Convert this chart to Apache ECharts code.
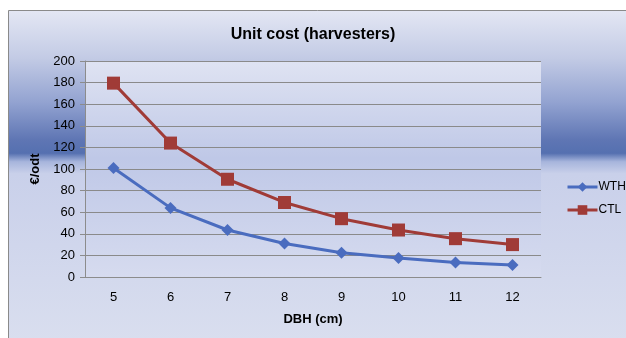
<!DOCTYPE html>
<html>
<head>
<meta charset="utf-8">
<script src="https://cdn.jsdelivr.net/npm/echarts@6/dist/echarts.min.js"></script>
<style>html,body{margin:0;padding:0;background:#fff}#c{width:626px;height:338px}</style>
</head>
<body>
<div id="c"></div>
<script>
var categories = ['5','6','7','8','9','10','11','12'];
var wth = [101, 64, 43.5, 31, 22.5, 17.5, 13.5, 11];
var ctl = [179.5, 124, 90.5, 69, 54, 43.5, 35.5, 30];
var yTicks = {min: 0, max: 200, interval: 20};

var chart = echarts.init(document.getElementById('c'));
var font = 'Liberation Sans';
chart.setOption({
  animation: false,
  graphic: [
    {type: 'rect', shape: {x: 8.5, y: 10.5, width: 640, height: 340}, z: -10,
     style: {stroke: '#8a8a8a', lineWidth: 1,
       fill: {type: 'linear', x: 0, y: 0, x2: 0, y2: 1, colorStops: [
         {offset: 0, color: '#e4e7f4'},
         {offset: 0.14, color: '#c3cbe5'},
         {offset: 0.27, color: '#93a3d1'},
         {offset: 0.38, color: '#5f76b4'},
         {offset: 0.42, color: '#5570b0'},
         {offset: 0.445, color: '#a7b5dc'},
         {offset: 0.48, color: '#c9d0ea'},
         {offset: 1, color: '#dadfef'}
       ]}}},
    {type: 'rect', shape: {x: 85, y: 61, width: 456, height: 216}, z: -5,
     style: {fill: {type: 'linear', x: 0, y: 0, x2: 0, y2: 1, colorStops: [
         {offset: 0, color: '#dfe3f2'},
         {offset: 0.45, color: '#bfc8e7'},
         {offset: 1, color: '#d6dbef'}
       ]}}}
  ],
  title: {
    text: 'Unit cost (harvesters)', left: 'center', top: 22,
    textStyle: {fontFamily: font, fontSize: 16, fontWeight: 'bold', color: '#000'}
  },
  legend: {
    orient: 'vertical', left: 561, top: 176, itemGap: 11,
    itemWidth: 30, itemHeight: 12,
    lineStyle: {width: 3},
    textStyle: {fontFamily: font, fontSize: 12, color: '#000', padding: [0, 0, 0, -4]},
    data: ['WTH', 'CTL']
  },
  grid: {left: 85, right: 85, top: 61, bottom: 61, containLabel: false},
  xAxis: {
    type: 'category', data: categories, boundaryGap: true,
    name: 'DBH (cm)', nameLocation: 'middle', nameGap: 36,
    nameTextStyle: {fontFamily: font, fontSize: 13, fontWeight: 'bold', color: '#000'},
    axisLine: {lineStyle: {color: '#8c8c8c', width: 1}},
    axisTick: {show: false},
    axisLabel: {fontFamily: font, fontSize: 13, color: '#000', margin: 14}
  },
  yAxis: {
    type: 'value', min: yTicks.min, max: yTicks.max, interval: yTicks.interval,
    name: '€/odt', nameLocation: 'middle', nameGap: 37, nameRotate: 90,
    nameTextStyle: {fontFamily: font, fontSize: 13, fontWeight: 'bold', color: '#000'},
    axisLine: {show: true, lineStyle: {color: '#8c8c8c'}},
    axisTick: {show: true, length: 5, lineStyle: {color: '#8c8c8c'}},
    axisLabel: {fontFamily: font, fontSize: 13, color: '#000', margin: 10},
    splitLine: {lineStyle: {color: '#8a8a8a', width: 1}}
  },
  series: [
    {name: 'WTH', type: 'line', data: wth, symbol: 'diamond', symbolSize: 12,
     lineStyle: {color: '#4a6cbf', width: 3}, itemStyle: {color: '#4a6cbf'}},
    {name: 'CTL', type: 'line', data: ctl, symbol: 'rect', symbolSize: 13,
     lineStyle: {color: '#a03b37', width: 3}, itemStyle: {color: '#a03b37'}}
  ]
});
</script>
</body>
</html>
